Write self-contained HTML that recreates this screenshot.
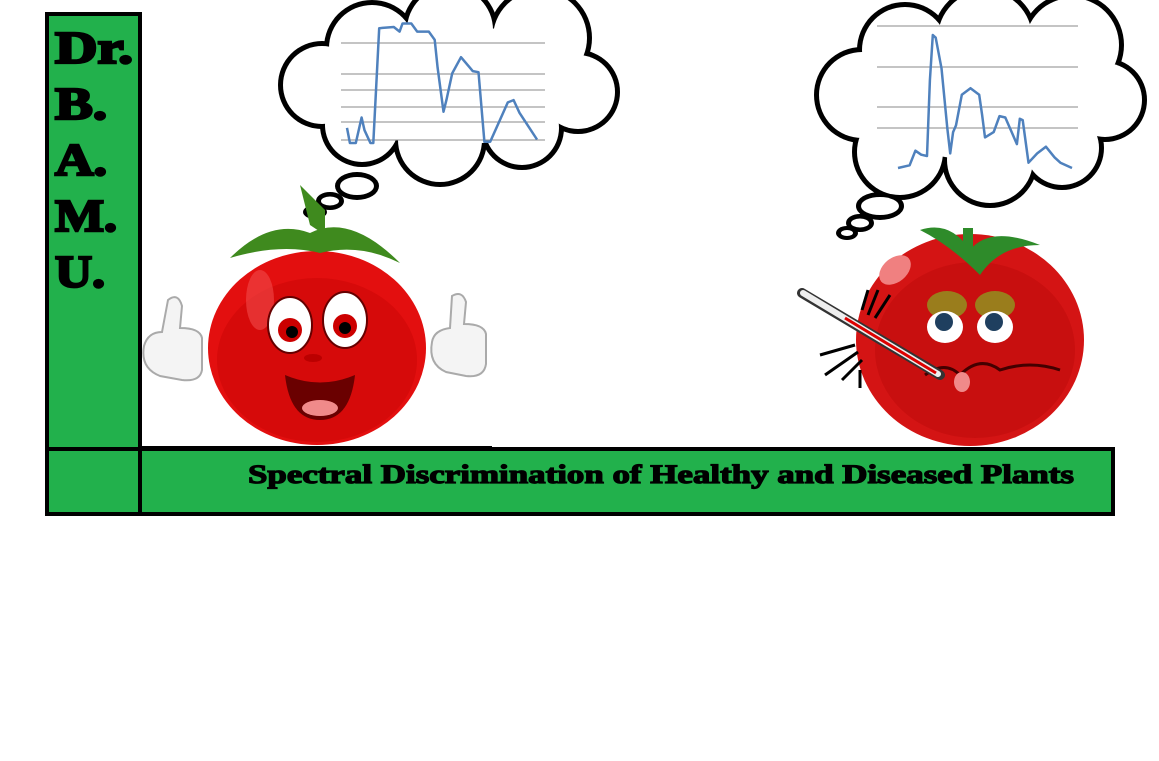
<!DOCTYPE html>
<html><head><meta charset="utf-8"><style>
html,body{margin:0;padding:0;background:#fff;}
svg{display:block;}
</style></head><body>
<svg id="root" width="1159" height="761" viewBox="0 0 1159 761" xmlns="http://www.w3.org/2000/svg">
<rect width="1159" height="761" fill="#fff"/>
<rect x="47" y="14" width="93" height="435" fill="#22b14c" stroke="#000" stroke-width="4"/>
<g font-family="'Liberation Serif',serif" font-weight="bold" font-size="46" fill="#000" stroke="#000" stroke-width="2.5">
<text x="55" y="63" textLength="78" lengthAdjust="spacingAndGlyphs">Dr.</text>
<text x="55" y="119" textLength="52" lengthAdjust="spacingAndGlyphs">B.</text>
<text x="55" y="175" textLength="52" lengthAdjust="spacingAndGlyphs">A.</text>
<text x="55" y="231" textLength="62" lengthAdjust="spacingAndGlyphs">M.</text>
<text x="55" y="287" textLength="50" lengthAdjust="spacingAndGlyphs">U.</text>
</g>
<line x1="140" y1="447" x2="492" y2="447" stroke="#000" stroke-width="2"/>
<rect x="47" y="449" width="1066" height="65" fill="#22b14c" stroke="#000" stroke-width="4"/>
<line x1="140" y1="449" x2="140" y2="514" stroke="#000" stroke-width="4"/>
<text x="248" y="483" textLength="826" lengthAdjust="spacingAndGlyphs" font-family="'Liberation Serif',serif" font-weight="bold" font-size="26" fill="#000" stroke="#000" stroke-width="1.2">Spectral Discrimination of Healthy and Diseased Plants</text>

<g>
<g fill="#000">
<circle cx="322" cy="85" r="44"/><circle cx="372" cy="48" r="48"/><circle cx="450" cy="30" r="48"/><circle cx="540" cy="38" r="52"/><circle cx="578" cy="92" r="42"/><circle cx="522" cy="128" r="42"/><circle cx="440" cy="140" r="47"/><circle cx="362" cy="125" r="42"/>
<ellipse cx="357" cy="186" rx="22" ry="14"/><ellipse cx="330" cy="201" rx="14" ry="9"/><ellipse cx="315" cy="212" rx="12" ry="7"/>
</g>
<g fill="#fff">
<circle cx="322" cy="85" r="39"/><circle cx="372" cy="48" r="43"/><circle cx="450" cy="30" r="43"/><circle cx="540" cy="38" r="47"/><circle cx="578" cy="92" r="37"/><circle cx="522" cy="128" r="37"/><circle cx="440" cy="140" r="42"/><circle cx="362" cy="125" r="37"/>
<ellipse cx="450" cy="85" rx="130" ry="60"/>
<ellipse cx="357" cy="186" rx="17" ry="9"/><ellipse cx="330" cy="201" rx="9" ry="4.5"/><ellipse cx="315" cy="212" rx="7" ry="3"/>
</g>
<g id="chartL"></g>
</g>

<g>
<g fill="#000">
<circle cx="862" cy="95" r="48"/><circle cx="905" cy="50" r="48"/><circle cx="985" cy="38" r="52"/><circle cx="1072" cy="45" r="52"/><circle cx="1105" cy="100" r="42"/><circle cx="1062" cy="148" r="42"/><circle cx="990" cy="160" r="48"/><circle cx="900" cy="152" r="48"/>
<ellipse cx="880" cy="206" rx="24" ry="14"/><ellipse cx="860" cy="223" rx="14" ry="9"/><ellipse cx="847" cy="233" rx="11" ry="7"/>
</g>
<g fill="#fff">
<circle cx="862" cy="95" r="43"/><circle cx="905" cy="50" r="43"/><circle cx="985" cy="38" r="47"/><circle cx="1072" cy="45" r="47"/><circle cx="1105" cy="100" r="37"/><circle cx="1062" cy="148" r="37"/><circle cx="990" cy="160" r="43"/><circle cx="900" cy="152" r="43"/>
<ellipse cx="985" cy="100" rx="130" ry="60"/>
<ellipse cx="880" cy="206" rx="19" ry="9"/><ellipse cx="860" cy="223" rx="9" ry="4.5"/><ellipse cx="847" cy="233" rx="6" ry="3"/>
</g>
<g id="chartR"></g>
</g>

<g>
<g fill="#f4f4f4" stroke="#aaa" stroke-width="2">
<path d="M168,300 q10,-8 14,6 l-2,22 q20,0 22,10 l0,32 q-2,12 -20,10 l-22,-4 q-20,-8 -16,-30 q4,-14 18,-14 z"/>
</g>
<g fill="#f4f4f4" stroke="#aaa" stroke-width="2">
<path d="M452,296 q10,-6 14,6 l-2,22 q20,0 22,10 l0,30 q-2,14 -20,12 l-20,-4 q-18,-8 -14,-30 q2,-12 18,-14 z"/>
</g>
<ellipse cx="317" cy="348" rx="109" ry="97" fill="#e30f0f"/>
<ellipse cx="317" cy="360" rx="100" ry="82" fill="#d60a0a"/>
<ellipse cx="260" cy="300" rx="14" ry="30" fill="#f04a4a" opacity="0.6"/>
<g fill="#3f8a1e">
<path d="M230,258 q40,-40 80,-25 q40,-20 90,30 q-40,-20 -80,-10 q-40,-10 -90,5 z"/>
<path d="M300,185 l10,40 l15,10 l0,-25 z"/>
</g>
<ellipse cx="290" cy="325" rx="22" ry="28" fill="#fff" stroke="#600" stroke-width="2"/>
<ellipse cx="345" cy="320" rx="22" ry="28" fill="#fff" stroke="#600" stroke-width="2"/>
<circle cx="290" cy="330" r="12" fill="#c00"/><circle cx="345" cy="326" r="12" fill="#c00"/>
<circle cx="292" cy="332" r="6" fill="#000"/><circle cx="345" cy="328" r="6" fill="#000"/>
<ellipse cx="313" cy="358" rx="9" ry="4" fill="#b00"/>
<path d="M285,375 q35,15 70,0 q-5,45 -35,45 q-30,0 -35,-45 z" fill="#6a0000"/>
<ellipse cx="320" cy="408" rx="18" ry="8" fill="#f08a8a"/>
</g>

<g>
<ellipse cx="970" cy="340" rx="114" ry="106" fill="#d41414"/>
<ellipse cx="975" cy="350" rx="100" ry="88" fill="#c80f0f"/>
<ellipse cx="895" cy="270" rx="18" ry="12" fill="#f08080" transform="rotate(-40 895 270)"/>
<g fill="#2e8b2a">
<path d="M920,230 q30,-10 50,20 q20,-25 70,-5 q-40,0 -60,30 q-30,-30 -60,-45 z"/>
<rect x="963" y="228" width="10" height="30"/>
</g>
<ellipse cx="947" cy="305" rx="20" ry="14" fill="#9a7d1c"/>
<ellipse cx="995" cy="305" rx="20" ry="14" fill="#9a7d1c"/>
<ellipse cx="945" cy="327" rx="18" ry="16" fill="#fff"/>
<ellipse cx="995" cy="327" rx="18" ry="16" fill="#fff"/>
<circle cx="944" cy="322" r="9" fill="#1f3f5f"/><circle cx="994" cy="322" r="9" fill="#1f3f5f"/>
<path d="M925,375 q20,-15 35,0 q20,-20 40,-5 q30,-10 60,0" fill="none" stroke="#400" stroke-width="3"/>
<ellipse cx="962" cy="382" rx="8" ry="10" fill="#f08a8a"/>
<g>
<line x1="802" y1="293" x2="940" y2="375" stroke="#333" stroke-width="10" stroke-linecap="round"/>
<line x1="803" y1="293" x2="938" y2="374" stroke="#eee" stroke-width="6" stroke-linecap="round"/>
<line x1="845" y1="318" x2="936" y2="373" stroke="#d00" stroke-width="3"/>
</g>
<g stroke="#000" stroke-width="3">
<line x1="868" y1="290" x2="862" y2="310"/><line x1="878" y1="290" x2="868" y2="315"/><line x1="890" y1="295" x2="875" y2="318"/>
<line x1="855" y1="345" x2="820" y2="355"/><line x1="858" y1="352" x2="825" y2="375"/><line x1="862" y1="360" x2="842" y2="380"/><line x1="860" y1="370" x2="860" y2="388"/>
</g>
</g>
</svg>
<script>
// Healthy spectrum (left cloud)
const healthyIdx = [0,1,3,5,6,8,9,11,16,18,19,22,24,28,30,31,33,34,36,39,42,43,45,47,49,55,57,59,65];
const healthyVal = [13,0,0,22,11,0,0,99,100,96,103,103,96,96,89,65,27,37,60,74,65,62,61,1,1,35,37,26,3];
// Diseased spectrum (right cloud)
const diseasedIdx = [0,4,6,8,10,11,12,13,15,17,18,19,20,22,25,28,29,30,33,35,37,39,41,42,43,45,48,51,54,56,60];
const diseasedVal = [0,2,13,10,9,66,100,98,75,30,11,27,32,55,60,55,40,23,27,39,38,28,18,37,36,4,11,16,8,4,0];
const gridLeft = [43,74,90,107,122,140];
const gridRight = [26,67,107,128];

function drawChart(gid, name, idx, val, x0, x1, y0, y1, xMax, yMax, grid, gx0, gx1) {
  const g = document.getElementById(gid);
  const ns = 'http://www.w3.org/2000/svg';
  const sx = v => x0 + (x1 - x0) * v / xMax;
  const sy = v => y0 - (y0 - y1) * v / yMax;
  grid.forEach(gy => {
    const l = document.createElementNS(ns, 'line');
    
    
    l.setAttribute('x1', gx0); l.setAttribute('x2', gx1);
    l.setAttribute('y1', gy); l.setAttribute('y2', gy);
    l.setAttribute('stroke', '#8a8a8a'); l.setAttribute('stroke-width', '1');
    g.appendChild(l);
  });
  const p = document.createElementNS(ns, 'polyline');
  
  
  p.setAttribute('points', idx.map((d, i) => sx(d).toFixed(1) + ',' + sy(val[i]).toFixed(1)).join(' '));
  p.setAttribute('fill', 'none');
  p.setAttribute('stroke', '#4f81bd');
  p.setAttribute('stroke-width', '2.5');
  p.setAttribute('stroke-linejoin', 'round');
  g.appendChild(p);
}
drawChart('chartL', 'healthy-spectrum-line', healthyIdx, healthyVal, 347, 537, 143, 27, 65, 100, gridLeft, 341, 545);
drawChart('chartR', 'diseased-spectrum-line', diseasedIdx, diseasedVal, 898, 1072, 168, 35, 60, 100, gridRight, 877, 1078);
</script>
</body></html>
